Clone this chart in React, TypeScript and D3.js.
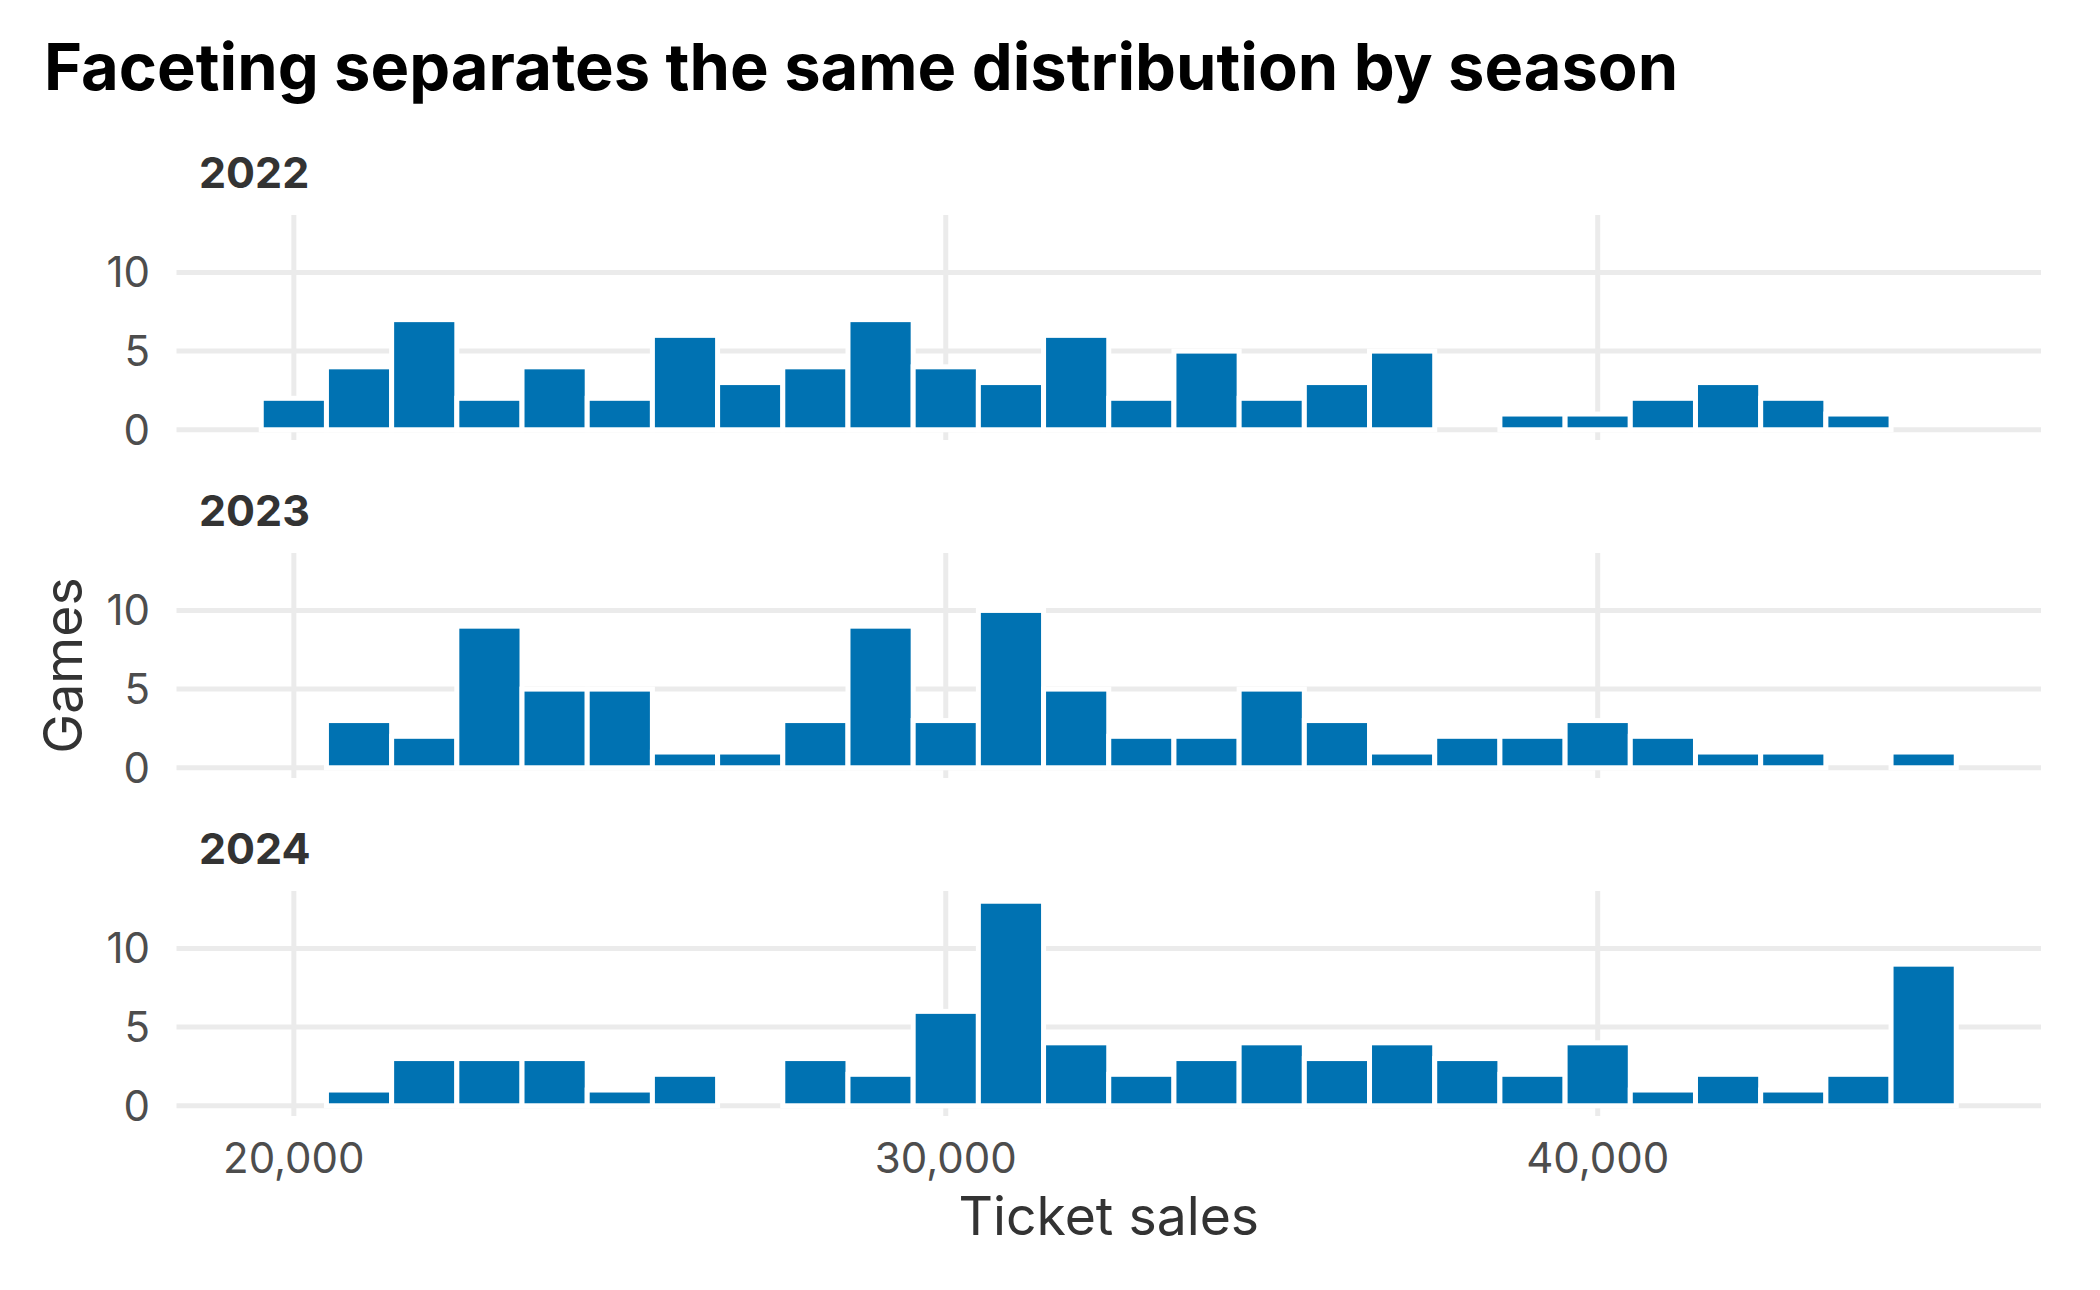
import React from "react";
import * as d3 from "d3";

const seasons = ["2022", "2023", "2024"];
const binStart = 19500;
const binWidth = 1000;
const counts2022 = [2, 4, 7, 2, 4, 2, 6, 3, 4, 7, 4, 3, 6, 2, 5, 2, 3, 5, 0, 1, 1, 2, 3, 2, 1, 0];
const counts2023 = [0, 3, 2, 9, 5, 5, 1, 1, 3, 9, 3, 10, 5, 2, 2, 5, 3, 1, 2, 2, 3, 2, 1, 1, 0, 1];
const counts2024 = [0, 1, 3, 3, 3, 1, 2, 0, 3, 2, 6, 13, 4, 2, 3, 4, 3, 4, 3, 2, 4, 1, 2, 1, 2, 9];
const xTicks = [20000, 30000, 40000];
const yTicks = [0, 5, 10];
const titleText = "Faceting separates the same distribution by season";
const xTitle = "Ticket sales";
const yTitle = "Games";

const seriesCounts = [counts2022, counts2023, counts2024];

const W = 2100;
const H = 1290;
const panelLeft = 176.5;
const panelRight = 2041;
const panelTops = [215, 553, 891];
const panelH = 225;
const FONT = "Inter, 'Noto Sans', sans-serif";

export default function App() {
  const nBins = counts2022.length;
  const binEnd = binStart + nBins * binWidth;
  const span = binEnd - binStart;
  const x = d3
    .scaleLinear()
    .domain([binStart - span * 0.05, binEnd + span * 0.05])
    .range([panelLeft, panelRight]);
  const yMax = d3.max(seriesCounts.flat()) as number;
  const yDomain: [number, number] = [-yMax * 0.05, yMax * 1.05];
  const fmt = d3.format(",");

  return (
    <svg
      width={W}
      height={H}
      viewBox={`0 0 ${W} ${H}`}
      style={{ position: "absolute", left: 0, top: 0, background: "#fff" }}
    >
      <rect x={0} y={0} width={W} height={H} fill="#fff" />
      <text x={44} y={90} fontFamily={FONT} fontWeight={700} fontSize={65} fill="#000">
        {titleText}
      </text>
      {seasons.map((s, i) => {
        const top = panelTops[i];
        const y = d3.scaleLinear().domain(yDomain).range([top + panelH, top]);
        const counts = seriesCounts[i];
        return (
          <g key={s}>
            <text x={199} y={top - 27} fontFamily={FONT} fontWeight={700} fontSize={43} fill="#333333">
              {s}
            </text>
            {yTicks.map((t) => (
              <line
                key={"h" + t}
                x1={panelLeft}
                x2={panelRight}
                y1={y(t)}
                y2={y(t)}
                stroke="#EBEBEB"
                strokeWidth={5}
              />
            ))}
            {xTicks.map((t) => (
              <line
                key={"v" + t}
                x1={x(t)}
                x2={x(t)}
                y1={top}
                y2={top + panelH}
                stroke="#EBEBEB"
                strokeWidth={5}
              />
            ))}
            {counts.map((c, j) => {
              const x0 = x(binStart + j * binWidth);
              const x1 = x(binStart + (j + 1) * binWidth);
              return (
                <rect
                  key={j}
                  x={x0}
                  y={y(c)}
                  width={x1 - x0}
                  height={y(0) - y(c)}
                  fill="#0072B2"
                  stroke="#FFFFFF"
                  strokeWidth={5}
                />
              );
            })}
            {yTicks.map((t) => (
              <text
                key={"yl" + t}
                x={150}
                y={y(t) + 15}
                textAnchor="end"
                fontFamily={FONT}
                fontSize={42}
                fill="#4D4D4D"
              >
                {t}
              </text>
            ))}
          </g>
        );
      })}
      {xTicks.map((t) => (
        <text
          key={"xl" + t}
          x={x(t)}
          y={1173}
          textAnchor="middle"
          fontFamily={FONT}
          fontSize={42}
          fill="#4D4D4D"
        >
          {fmt(t)}
        </text>
      ))}
      <text
        x={(panelLeft + panelRight) / 2}
        y={1235}
        textAnchor="middle"
        fontFamily={FONT}
        fontSize={53.5}
        fill="#333333"
      >
        {xTitle}
      </text>
      <text
        transform={`translate(81.5, ${(panelTops[0] + panelTops[2] + panelH) / 2}) rotate(-90)`}
        textAnchor="middle"
        fontFamily={FONT}
        fontSize={53.5}
        fill="#333333"
      >
        {yTitle}
      </text>
    </svg>
  );
}
